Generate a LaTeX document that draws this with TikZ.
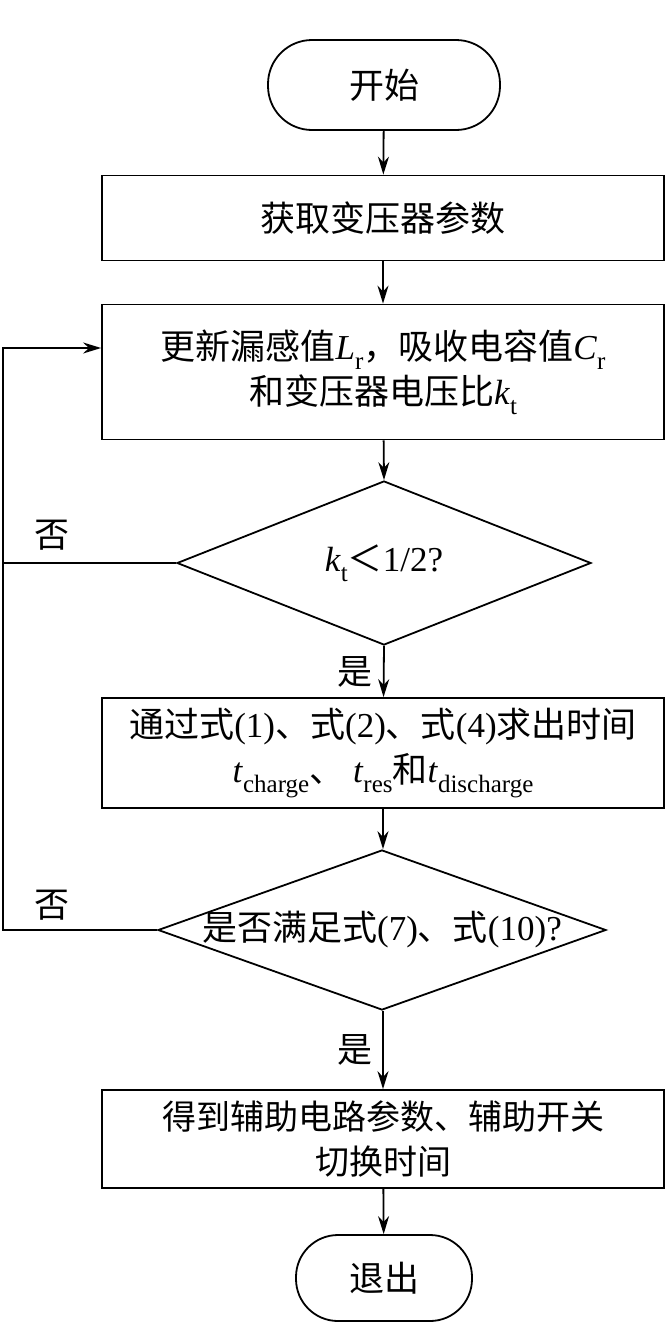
\documentclass[tikz,border=0pt]{standalone}
\usepackage{fontspec}
\setmainfont{Liberation Serif}
\newfontfamily\cjk{Noto Sans CJK SC}
\usetikzlibrary{shapes.geometric,arrows.meta}
\newcommand{\pedice}[2]{\textit{#1}\raisebox{-0.28em}{\fontsize{25}{25}\selectfont #2}}

\begin{document}
\begin{tikzpicture}[x=1pt,y=-1pt,line width=1.8pt,
    freccia/.style={-{Stealth[length=18pt,width=11pt]}},
    testo/.style={font=\fontsize{35}{45}\selectfont},
    blocco/.style={testo,draw,rectangle,minimum width=562pt,align=center,inner sep=0pt},
    terminale/.style={testo,draw,rectangle,align=center,inner sep=0pt},
    decisione/.style={draw,diamond,inner sep=0pt}]
        \useasboundingbox (0,0) rectangle (666,1325);
        % blocchi
        \node [terminale,minimum width=232pt,minimum height=90pt,rounded corners=44pt] (inizio) at (384,85) {\cjk 开始};
        \node [blocco,minimum height=85pt] (param) at (383,218) {\cjk 获取变压器参数};
        \node [blocco,minimum height=135pt] (aggiorna) at (383,372) {{\cjk 更新漏感值}\pedice{L}{r}{\cjk ，吸收电容值}\pedice{C}{r}\\{\cjk 和变压器电压比}\pedice{k}{t}};
        \node [decisione,minimum width=414pt,minimum height=164pt] (cond1) at (384,563) {};
        \node [testo] (cond1txt) at (cond1) {\pedice{k}{t}{\cjk ＜}1/2?};
        \node [blocco,minimum height=110pt] (tempi) at (383,753) {{\cjk 通过式}(1){\cjk 、式}(2){\cjk 、式}(4){\cjk 求出时间}\\\pedice{t}{charge}{\cjk 、} \pedice{t}{res}{\cjk 和}\pedice{t}{discharge}};
        \node [decisione,minimum width=448pt,minimum height=160pt] (cond2) at (382,930) {};
        \node [testo] (cond2txt) at (cond2) {{\cjk 是否满足式}(7){\cjk 、式}(10)?};
        \node [blocco,minimum height=98pt,font=\fontsize{34}{45}\selectfont] (risult) at (383,1139) {\cjk 得到辅助电路参数、辅助开关\\\cjk 切换时间};
        \node [terminale,minimum width=176pt,minimum height=86pt,rounded corners=42pt] (fine) at (384,1278) {\cjk 退出};
        % etichette
        \node [testo] (no1) at (52,535) {\cjk 否};
        \node [testo] (no2) at (52,905) {\cjk 否};
        \node [testo] (si1) at (355,672) {\cjk 是};
        \node [testo] (si2) at (355,1050) {\cjk 是};
        % frecce
        \coordinate (ang1) at (3,563);
        \coordinate (ang2) at (3,930);
        \coordinate (ang3) at (3,348);
        \draw [freccia] (inizio) -- (param);
        \draw [freccia] (param) -- (aggiorna);
        \draw [freccia] (aggiorna) -- (cond1.north);
        \draw [freccia] (cond1.south) -- (tempi);
        \draw [freccia] (tempi.south) -- (tempi.south |- cond2.north);
        \draw [freccia] (cond2.south -| risult.south) -- (risult);
        \draw [freccia] (risult) -- (fine);
        \draw (cond1.west) -- (ang1);
        \draw [freccia] (cond2.west) -- (ang2) -- (ang3) -- (ang3 -| aggiorna.west);
\end{tikzpicture}
\end{document}
